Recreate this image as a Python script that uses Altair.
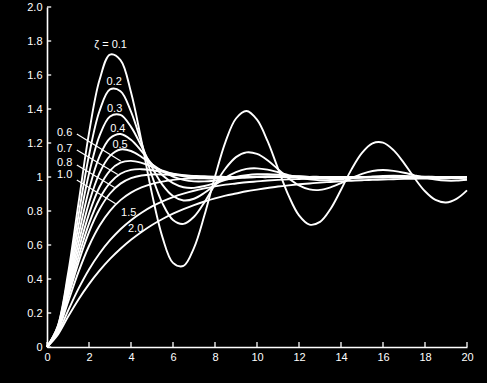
import altair as alt
import pandas as pd

# time axis samples
t = [0, 0.5, 1, 1.5, 2, 2.5, 3, 3.5, 4, 4.5, 5, 5.5, 6, 6.5, 7, 7.5, 8, 8.5, 9, 9.5,
     10, 10.5, 11, 11.5, 12, 12.5, 13, 13.5, 14, 14.5, 15, 15.5, 16, 16.5, 17, 17.5,
     18, 18.5, 19, 19.5, 20]

# step-response values, one list per damping ratio
z01 = [0, 0.118, 0.431, 0.846, 1.258, 1.570, 1.720, 1.688, 1.498, 1.211, 0.901, 0.645,
       0.495, 0.477, 0.583, 0.776, 1.003, 1.207, 1.344, 1.388, 1.337, 1.212, 1.050,
       0.892, 0.774, 0.720, 0.736, 0.812, 0.925, 1.045, 1.142, 1.198, 1.202, 1.158,
       1.082, 0.994, 0.916, 0.865, 0.850, 0.871, 0.921]
z02 = [0, 0.115, 0.405, 0.775, 1.128, 1.388, 1.515, 1.505, 1.385, 1.201, 1.006, 0.845,
       0.747, 0.724, 0.766, 0.852, 0.956, 1.050, 1.117, 1.145, 1.136, 1.099, 1.046,
       0.993, 0.951, 0.927, 0.924, 0.939, 0.964, 0.993, 1.018, 1.035, 1.041, 1.036,
       1.025, 1.010, 0.996, 0.985, 0.979, 0.979, 0.984]
z03 = [0, 0.111, 0.382, 0.713, 1.019, 1.242, 1.356, 1.365, 1.295, 1.180, 1.057, 0.954,
       0.888, 0.862, 0.872, 0.907, 0.952, 0.996, 1.029, 1.048, 1.051, 1.043, 1.028,
       1.011, 0.996, 0.986, 0.981, 0.982, 0.986, 0.992, 0.999, 1.003, 1.006, 1.007,
       1.006, 1.004, 1.002, 1.000, 0.998, 0.997, 0.997]
z04 = [0, 0.108, 0.360, 0.658, 0.927, 1.122, 1.228, 1.253, 1.219, 1.152, 1.076, 1.010,
       0.964, 0.940, 0.936, 0.947, 0.964, 0.983, 1.000, 1.010, 1.016, 1.016, 1.013,
       1.008, 1.004, 1.000, 0.997, 0.996, 0.996, 0.997, 0.998, 0.999, 1.000, 1.001,
       1.001, 1.001, 1.001, 1.001, 1.000, 1.000, 1.000]
z05 = [0, 0.104, 0.340, 0.611, 0.849, 1.023, 1.124, 1.162, 1.153, 1.118, 1.075, 1.034,
       1.002, 0.983, 0.974, 0.974, 0.979, 0.986, 0.993, 0.999, 1.002, 1.004, 1.004,
       1.004, 1.003, 1.001, 1.000, 1.000, 0.999, 0.999, 0.999, 1.000, 1.000, 1.000,
       1.000, 1.000, 1.000, 1.000, 1.000, 1.000, 1.000]
z06 = [0, 0.101, 0.322, 0.569, 0.783, 0.941, 1.038, 1.085, 1.095, 1.083, 1.061, 1.038,
       1.018, 1.004, 0.996, 0.992, 0.991, 0.992, 0.995, 0.997, 0.999, 1.000, 1.001,
       1.001, 1.001, 1.001, 1.001, 1.000, 1.000, 1.000, 1.000, 1.000, 1.000, 1.000,
       1.000, 1.000, 1.000, 1.000, 1.000, 1.000, 1.000]
z07 = [0, 0.098, 0.306, 0.531, 0.726, 0.871, 0.965, 1.019, 1.042, 1.046, 1.040, 1.030,
       1.020, 1.011, 1.005, 1.001, 0.999, 0.998, 0.998, 0.998, 0.999, 0.999, 1.000,
       1.000, 1.000, 1.000, 1.000, 1.000, 1.000, 1.000, 1.000, 1.000, 1.000, 1.000,
       1.000, 1.000, 1.000, 1.000, 1.000, 1.000, 1.000]
z08 = [0, 0.095, 0.291, 0.498, 0.676, 0.810, 0.903, 0.961, 0.993, 1.009, 1.015, 1.015,
       1.012, 1.009, 1.006, 1.004, 1.002, 1.001, 1.000, 1.000, 1.000, 1.000, 1.000,
       1.000, 1.000, 1.000, 1.000, 1.000, 1.000, 1.000, 1.000, 1.000, 1.000, 1.000,
       1.000, 1.000, 1.000, 1.000, 1.000, 1.000, 1.000]
z10 = [0, 0.090, 0.264, 0.442, 0.594, 0.713, 0.801, 0.864, 0.908, 0.939, 0.960, 0.973,
       0.983, 0.989, 0.993, 0.995, 0.997, 0.998, 0.999, 0.999, 1.000, 1.000, 1.000,
       1.000, 1.000, 1.000, 1.000, 1.000, 1.000, 1.000, 1.000, 1.000, 1.000, 1.000,
       1.000, 1.000, 1.000, 1.000, 1.000, 1.000, 1.000]
z15 = [0, 0.079, 0.213, 0.343, 0.456, 0.550, 0.628, 0.693, 0.746, 0.790, 0.827, 0.857,
       0.882, 0.902, 0.919, 0.933, 0.945, 0.955, 0.962, 0.969, 0.974, 0.979, 0.983,
       0.986, 0.988, 0.990, 0.992, 0.993, 0.994, 0.995, 0.996, 0.997, 0.997, 0.998,
       0.998, 0.999, 0.999, 0.999, 0.999, 0.999, 0.999]
z20 = [0, 0.070, 0.178, 0.280, 0.370, 0.449, 0.518, 0.578, 0.631, 0.677, 0.718, 0.753,
       0.784, 0.811, 0.835, 0.856, 0.874, 0.890, 0.903, 0.916, 0.926, 0.935, 0.944,
       0.951, 0.957, 0.962, 0.967, 0.971, 0.975, 0.978, 0.981, 0.983, 0.985, 0.987,
       0.989, 0.990, 0.991, 0.992, 0.993, 0.994, 0.995]

zetas = ["0.1", "0.2", "0.3", "0.4", "0.5", "0.6", "0.7", "0.8", "1.0", "1.5", "2.0"]
series = [z01, z02, z03, z04, z05, z06, z07, z08, z10, z15, z20]

# curve labels
label_text = ["ζ = 0.1", "0.2", "0.3", "0.4", "0.5", "0.6", "0.7", "0.8", "1.0", "1.5", "2.0"]
label_x = [3.03, 3.20, 3.22, 3.37, 3.48, 0.84, 0.84, 0.84, 0.84, 3.89, 4.22]
label_y = [1.776, 1.559, 1.400, 1.282, 1.188, 1.259, 1.165, 1.082, 1.012, 0.788, 0.694]

# leader lines from the left-hand labels to their curves
lead_x = [1.42, 1.42, 1.42, 1.42]
lead_y = [1.253, 1.159, 1.071, 0.982]
lead_x2 = [3.51, 3.37, 3.22, 3.27]
lead_y2 = [1.094, 1.015, 0.938, 0.843]

x_ticks = [0, 2, 4, 6, 8, 10, 12, 14, 16, 18, 20]
y_ticks = [0, 0.2, 0.4, 0.6, 0.8, 1, 1.2, 1.4, 1.6, 1.8, 2.0]

rows = []
for z, ys in zip(zetas, series):
    assert len(ys) == len(t), z
    for ti, yi in zip(t, ys):
        rows.append({"zeta": z, "t": ti, "y": yi})
df = pd.DataFrame(rows)

labels_df = pd.DataFrame({"text": label_text, "x": label_x, "y": label_y})
lead_df = pd.DataFrame({"x": lead_x, "y": lead_y, "x2": lead_x2, "y2": lead_y2})
xt_df = pd.DataFrame({"v": x_ticks, "lo": [0] * len(x_ticks), "hi": [0.03] * len(x_ticks)})
yt_df = pd.DataFrame({"v": y_ticks, "lo": [0] * len(y_ticks), "hi": [0.2] * len(y_ticks)})

FONT = "Liberation Sans"
xs = alt.Scale(domain=[0, 20], nice=False, zero=False)
ys_ = alt.Scale(domain=[0, 2], nice=False, zero=False)

XAX = alt.Axis(
    values=x_ticks, title=None, grid=False, ticks=False, domainColor="white",
    domainWidth=1.6, labelColor="white", labelFont=FONT, labelFontSize=11,
    labelPadding=4, labelFlush=False)
YAX = alt.Axis(
    values=y_ticks, title=None, grid=False, ticks=False, domainColor="white",
    domainWidth=1.6, labelColor="white", labelFont=FONT, labelFontSize=11,
    labelPadding=5, labelFlush=False,
    labelExpr="datum.value == 0 ? '0' : (abs(datum.value - 1) < 1e-9 ? '1' : format(datum.value, '.1f'))")

curves = alt.Chart(df).mark_line(
    color="white", strokeWidth=1.9, interpolate="catmull-rom"
).encode(
    x=alt.X("t:Q", scale=xs, axis=XAX),
    y=alt.Y("y:Q", scale=ys_, axis=YAX),
    detail="zeta:N",
)

xticks = alt.Chart(xt_df).mark_rule(color="white", strokeWidth=1.3).encode(
    x=alt.X("v:Q", scale=xs, axis=XAX),
    y=alt.Y("lo:Q", scale=ys_, axis=YAX),
    y2="hi:Q",
)
yticks = alt.Chart(yt_df).mark_rule(color="white", strokeWidth=1.3).encode(
    y=alt.Y("v:Q", scale=ys_, axis=YAX),
    x=alt.X("lo:Q", scale=xs, axis=XAX),
    x2="hi:Q",
)

leaders = alt.Chart(lead_df).mark_rule(color="white", strokeWidth=1.2).encode(
    x=alt.X("x:Q", scale=xs, axis=XAX),
    y=alt.Y("y:Q", scale=ys_, axis=YAX),
    x2="x2:Q",
    y2="y2:Q",
)

texts = alt.Chart(labels_df).mark_text(
    color="white", font=FONT, fontSize=11, align="center", baseline="middle"
).encode(
    x=alt.X("x:Q", scale=xs, axis=XAX),
    y=alt.Y("y:Q", scale=ys_, axis=YAX),
    text="text:N",
)

chart = alt.layer(curves, xticks, yticks, leaders, texts).properties(
    width=420,
    height=340,
    autosize=alt.AutoSizeParams(type="none"),
    padding={"left": 47, "top": 7, "right": 20, "bottom": 36},
).configure(background="black").configure_view(strokeWidth=0)

chart.save("out.html", embed_options={"renderer": "svg", "actions": False})
